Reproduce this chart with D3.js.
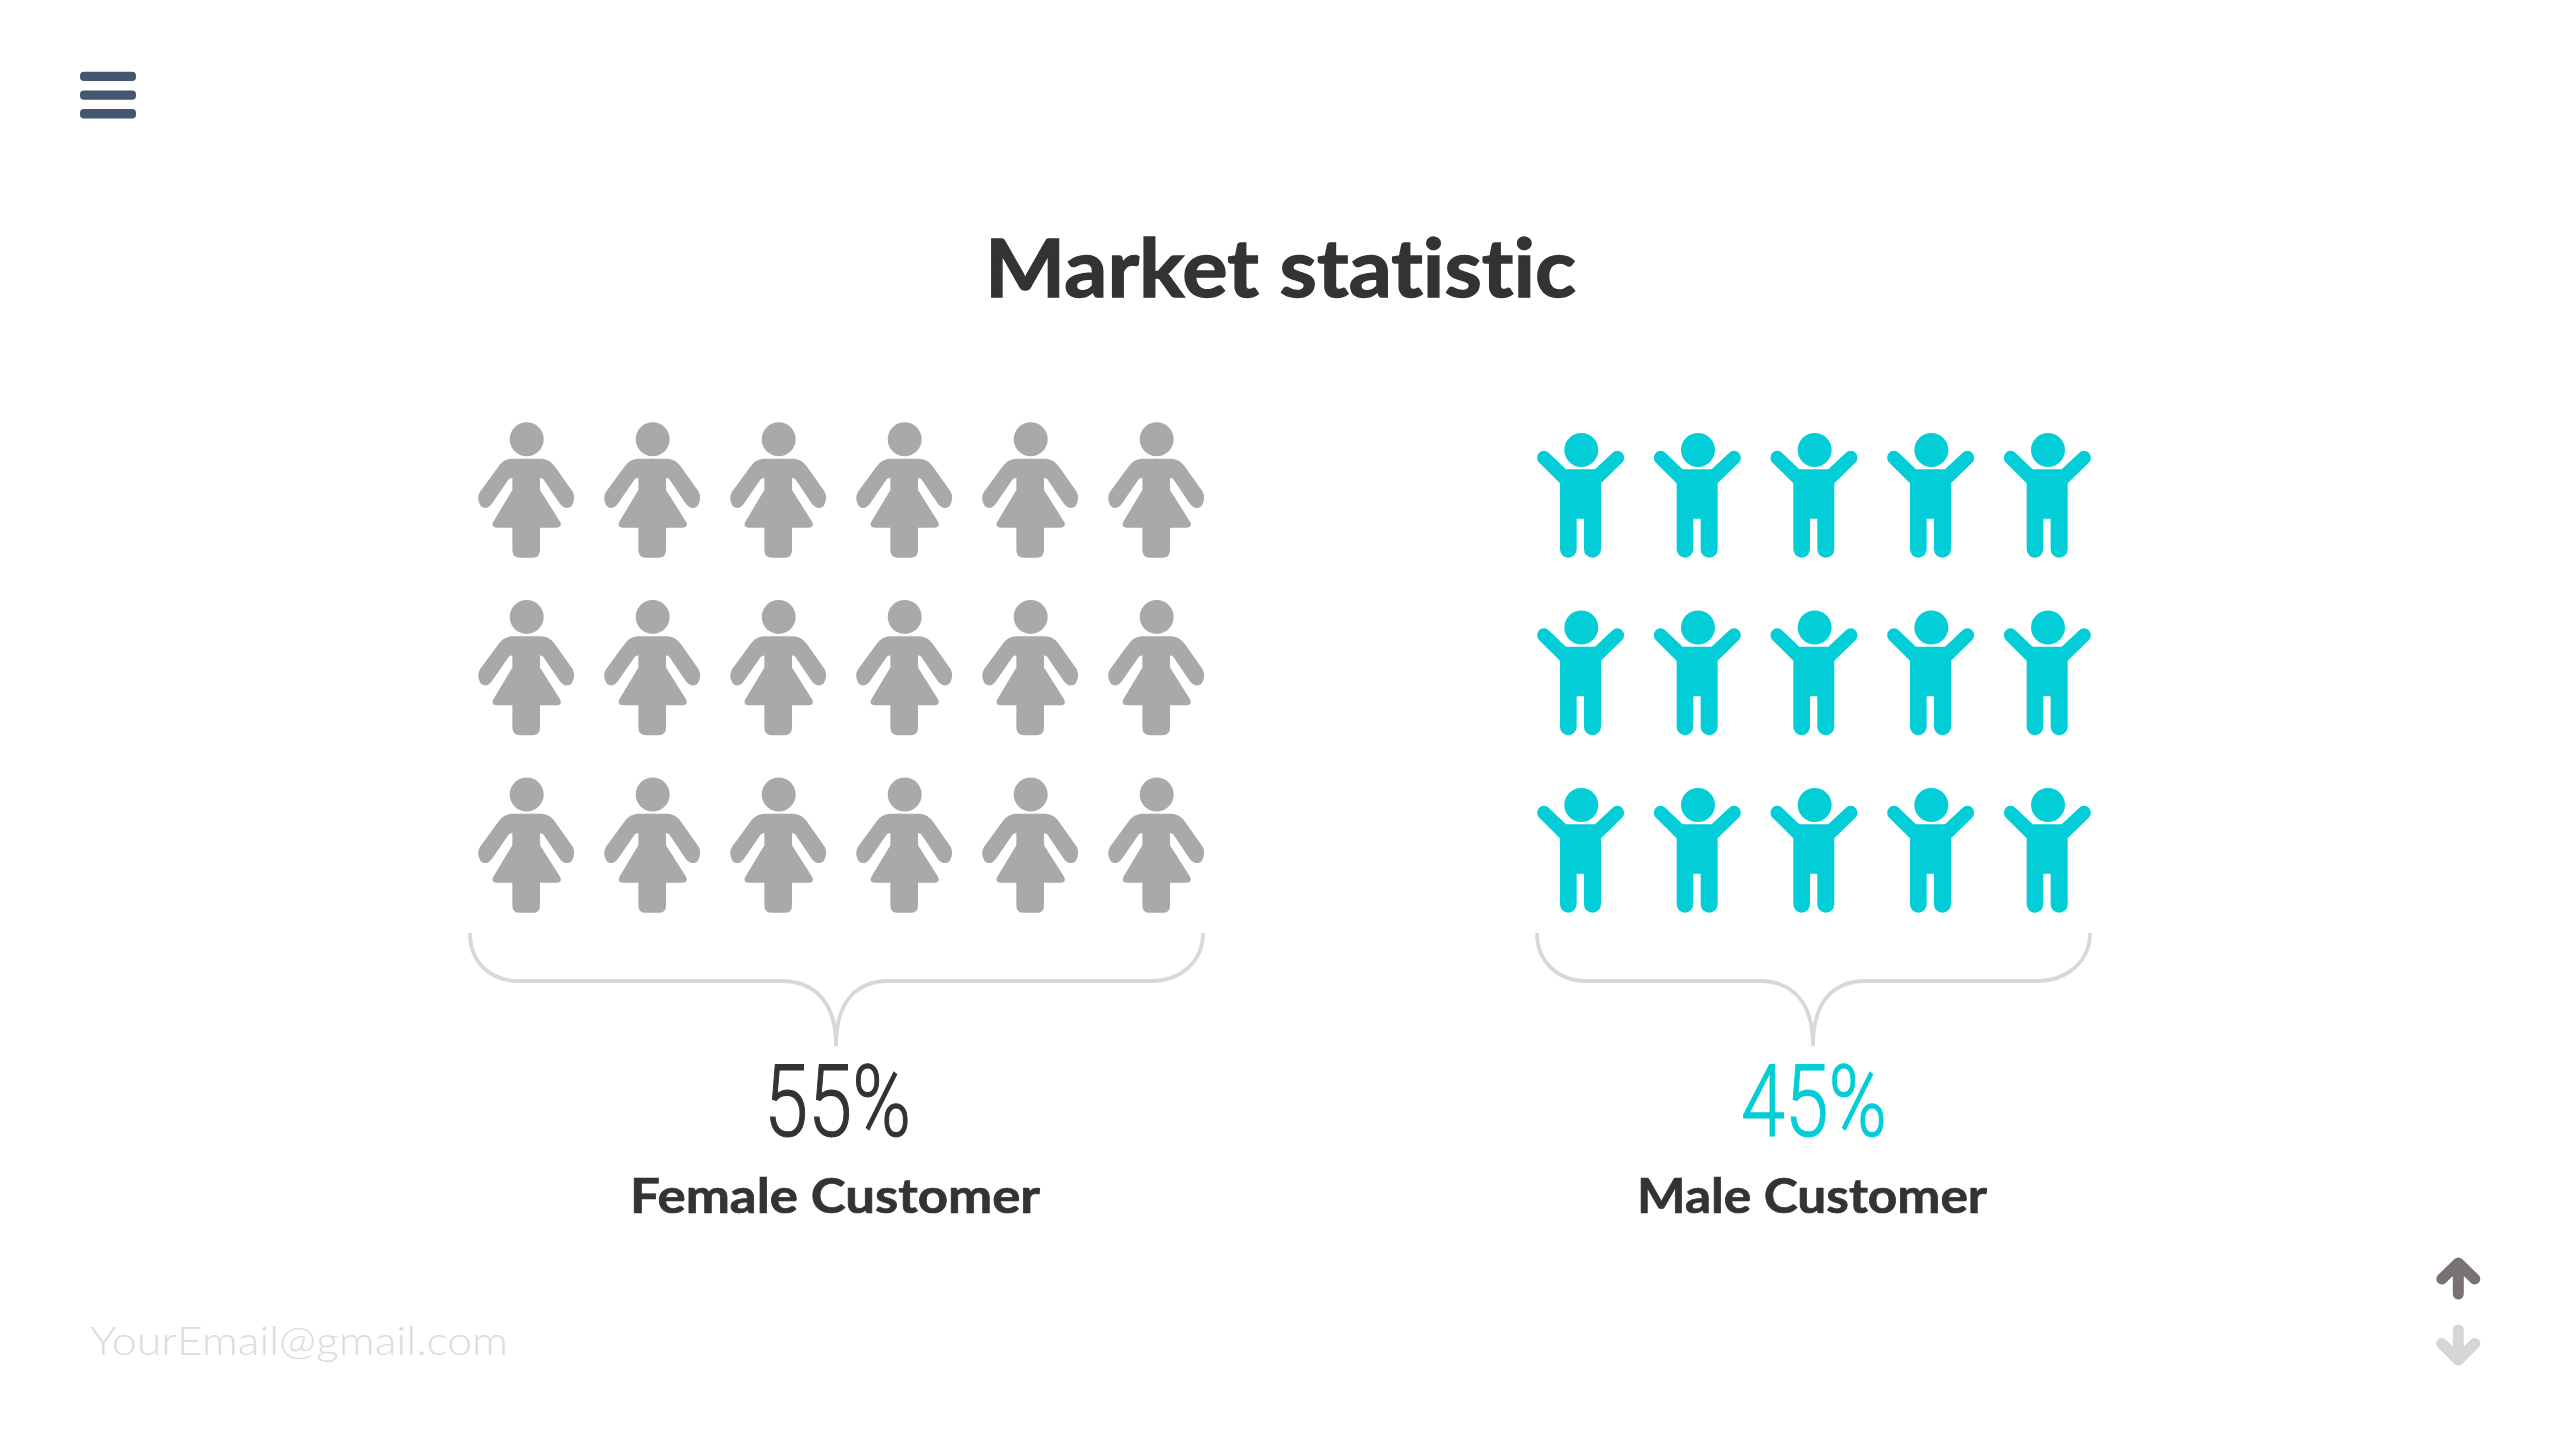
<!DOCTYPE html>
<html>
<head>
<meta charset="utf-8">
<script src="https://cdn.jsdelivr.net/npm/d3@7"></script>
<style>
html,body{margin:0;padding:0;background:#fff;overflow:hidden}
svg{display:block}
text{font-variant-ligatures:none}
</style>
</head>
<body>
<svg id="c" width="2560" height="1440"></svg>
<script>
const chartTitle = "Market statistic";
const footerText = "YourEmail@gmail.com";
const categories = ["Female Customer", "Male Customer"];
const shares = [55, 45];
const femaleColumns = [0, 1, 2, 3, 4, 5];
const maleColumns = [0, 1, 2, 3, 4];
const iconRows = [0, 1, 2];

const svg = d3.select("#c");
const DARK = "#333333", GREY = "#a9a9a9", CYAN = "#03cdd6", BRACE = "#d8d8d8";

const femaleX = d3.scalePoint().domain(femaleColumns).range([526.7, 1156.7]);
const femaleY = d3.scalePoint().domain(iconRows).range([439.3, 794.5]);
const maleX = d3.scalePoint().domain(maleColumns).range([1581.3, 2048]);
const maleY = d3.scalePoint().domain(iconRows).range([450, 805]);

const femaleIcon = "M155,146 L245,146 Q270,148 285,170 L338,245 Q348,265 335,288 Q318,302 300,282 L250,208 Q247,204 240,204 L240,240 L300,335 Q308,352 290,353 L240,353 L240,420 Q240,443 218,443 L180,443 Q157,443 157,420 L157,353 L110,353 Q92,352 100,335 L157,240 L157,204 Q150,204 146,208 L95,282 Q78,302 62,288 Q48,265 60,245 L115,170 Q130,148 155,146 Z M251,88 A51,51 0 1 1 149,88 A51,51 0 1 1 251,88 Z";
const maleIcon = "M138,148 L225,148 L278,98 A20.5,20.5 0 0 1 306,128 L243,190 L243,388 A25.5,25.5 0 0 1 192,388 L192,296 L170,296 L170,388 A25,25 0 0 1 120,388 L120,190 L58,128 A20.5,20.5 0 0 1 86,98 Z M235,90 A51,51 0 1 1 133,90 A51,51 0 1 1 235,90 Z";

function drawIcons(cols, x, y, path, fill, ax, ay) {
  const cells = d3.cross(cols, iconRows);
  svg.append("g").selectAll("path").data(cells).join("path")
    .attr("d", path).attr("fill", fill)
    .attr("transform", d => `translate(${x(d[0])},${y(d[1])}) scale(${1/3}) translate(${-ax},${-ay})`);
}
drawIcons(femaleColumns, femaleX, femaleY, femaleIcon, GREY, 200, 88);
drawIcons(maleColumns, maleX, maleY, maleIcon, CYAN, 184, 90);

function brace(l, a, b, m, c, d, r) {
  const p = d3.path();
  const top = 933, flat = 981, tip = 1018, end = 1046;
  p.moveTo(l, top);
  p.bezierCurveTo(l, top + 30, a - 28, flat, a, flat);
  p.lineTo(b, flat);
  p.bezierCurveTo(b + 30, flat, m, tip - 20, m, end);
  p.moveTo(r, top);
  p.bezierCurveTo(r, top + 30, d + 28, flat, d, flat);
  p.lineTo(c, flat);
  p.bezierCurveTo(c - 30, flat, m, tip - 20, m, end);
  svg.append("path").attr("d", p.toString()).attr("fill", "none")
    .attr("stroke", BRACE).attr("stroke-width", 3.8);
}
brace(470, 519, 781, 836, 889, 1151, 1203);
brace(1537, 1587, 1759, 1813, 1866, 2037, 2090);

function label(str, x0, x1, base, size, family, weight, fill, bold) {
  svg.append("text").text(str)
    .attr("x", x0).attr("y", base)
    .attr("font-family", family).attr("font-size", size).attr("font-weight", weight)
    .attr("fill", fill).attr("stroke", bold ? fill : "none").attr("stroke-width", bold || 0)
    .attr("textLength", x1 - x0).attr("lengthAdjust", "spacingAndGlyphs");
}
const SANS = "Lato, 'Noto Sans', sans-serif";
label(chartTitle, 985, 1576, 296.7, 80, SANS, 700, DARK, 1.4);
label(shares[0] + "%", 764, 911, 1136, 101, "Roboto, sans-serif", 300, DARK, 1.2);
label(shares[1] + "%", 1741, 1887, 1136, 101, "Roboto, sans-serif", 300, CYAN, 1.2);
label(categories[0], 630, 1040, 1212.7, 47, SANS, 700, DARK, 0.7);
label(categories[1], 1637, 1987, 1212.7, 47, SANS, 700, DARK, 0.7);
label(footerText, 90, 508, 1355, 40, SANS, 300, "#dcdcdc", 0);

// menu icon
[71.7, 90.4, 109].forEach(y => {
  svg.append("rect").attr("x", 80).attr("y", y).attr("width", 56).attr("height", 9.4)
    .attr("rx", 4).attr("fill", "#45556f");
});

// navigation arrows
function arrow(stemEnd, head, tip, color) {
  const cx = 2458.3, p = d3.path();
  p.moveTo(cx, stemEnd); p.lineTo(cx, tip);
  p.moveTo(cx - 16.5, head); p.lineTo(cx, tip); p.lineTo(cx + 16.5, head);
  svg.append("path").attr("d", p.toString()).attr("fill", "none").attr("stroke", color)
    .attr("stroke-width", 11).attr("stroke-linecap", "round").attr("stroke-linejoin", "round");
}
arrow(1294, 1279, 1263, "#7a7172");
arrow(1330, 1343.5, 1360, "#d6d6d6");
</script>
</body>
</html>
